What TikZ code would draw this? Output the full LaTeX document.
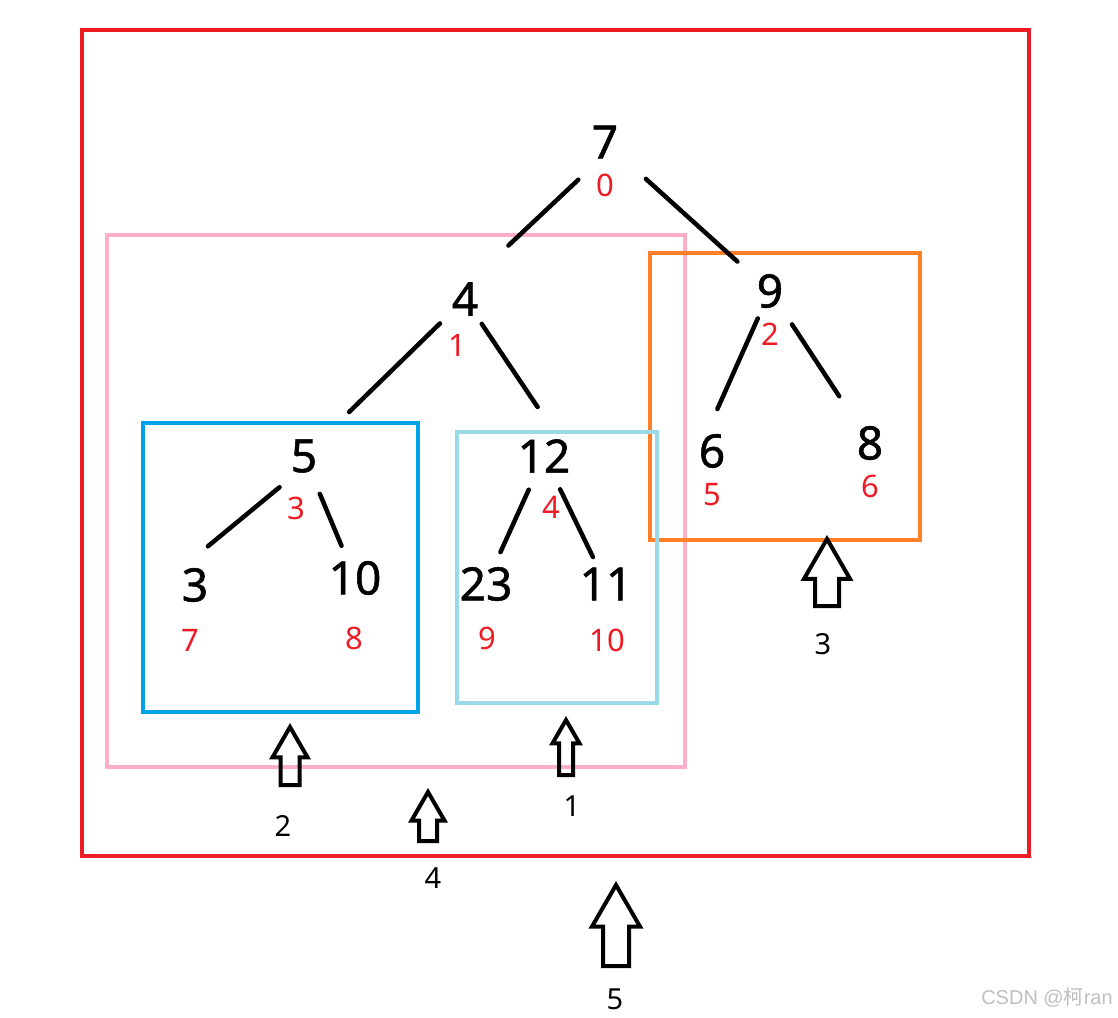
\documentclass[tikz,border=0pt]{standalone}
\usepackage{fontspec}
\setmainfont{Noto Sans}
\newfontfamily\cjk{Noto Sans CJK SC}
\newfontfamily\heavydigits{Noto Sans}[FakeBold=1.2]
\newfontfamily\markfont{Liberation Sans}
\usepackage{tikz}
\usetikzlibrary{shapes.arrows, positioning}
\definecolor{paintred}{HTML}{ED1C24}
\definecolor{paintpink}{HTML}{FFAEC9}
\definecolor{paintorange}{HTML}{FF7F27}
\definecolor{paintblue}{HTML}{00A2E8}
\definecolor{paintlight}{HTML}{99D9EA}
\tikzstyle{vert} = [inner sep=0pt, font=\heavydigits\fontsize{46}{46}\selectfont]
\tikzstyle{idx}  = [inner sep=0pt, text=paintred, font=\fontsize{31}{31}\selectfont]
\tikzstyle{edge} = [line width=4.5pt, line cap=round]

\begin{document}
\begin{tikzpicture}[x=1pt, y=-1pt,
    frame/.style={line width=4pt},
    uparrow/.style={single arrow, draw, line width=4pt, shape border rotate=90,
                    single arrow tip angle=60, outer sep=0pt, anchor=tip},
    lbl/.style={inner sep=0pt, font=\fontsize{29}{29}\selectfont},
    wmark/.style={inner sep=0pt, text=gray!50, font=\markfont\fontsize{20}{20}\selectfont}]

  \useasboundingbox (0,0) rectangle (1118,1017);

  % frames
  \draw[frame, paintred]    (82,30)   rectangle (1029,856);
  \draw[frame, paintpink]   (107,235) rectangle (685,767);
  \draw[frame, paintorange] (650,253) rectangle (920,540);
  \draw[frame, paintblue]   (143,423) rectangle (418,712);
  \draw[frame, paintlight]  (457,432) rectangle (657,703);

  % tree values
  \node[vert] (v7)  at (605,142) {7};
  \node[vert] (v4)  at (465,299) {4};
  \node[vert] (v9)  at (770,291) {9};
  \node[vert] (v5)  at (304,456) {5};
  \node[vert] (v12) at (544,456) {12};
  \node[vert] (v6)  at (712,451) {6};
  \node[vert] (v8)  at (870,443) {8};
  \node[vert] (v3)  at (195,585) {3};
  \node[vert] (v10) at (355,578) {10};
  \node[vert] (v23) at (486,584) {23};
  \node[vert] (v11) at (606,584) {11};

  % array indices
  \node[idx] (i0)  at (605,185) {0};
  \node[idx] (i1)  at (457,345) {1};
  \node[idx] (i2)  at (770,334) {2};
  \node[idx] (i3)  at (296,508) {3};
  \node[idx] (i4)  at (551,507) {4};
  \node[idx] (i5)  at (712,495) {5};
  \node[idx] (i6)  at (870,486) {6};
  \node[idx] (i7)  at (190,640) {7};
  \node[idx] (i8)  at (354,638) {8};
  \node[idx] (i9)  at (487,638) {9};
  \node[idx] (i10) at (607,640) {10};

  % edges
  \draw[edge, shorten <=55pt, shorten >=78pt] (v7.east)    -- (v4.west);
  \draw[edge, shorten <=55pt, shorten >=44pt] (v7.center)  -- (v9.center);
  \draw[edge, shorten <=35pt, shorten >=63pt] (v4.center)  -- (v5.center);
  \draw[edge, shorten <=30pt, shorten >=59pt] (v4.center)  -- (v12.east);
  \draw[edge, shorten <=30pt, shorten >=46pt] (v9.center)  -- (v6.west);
  \draw[edge, shorten <=40pt, shorten >=56pt] (v9.center)  -- (v8.center);
  \draw[edge, shorten <=49pt, shorten >=34pt] (v5.east)    -- (v3.north west);
  \draw[edge, shorten <=41pt, shorten >=35pt] (v5.center)  -- (v10.center);
  \draw[edge, shorten <=37pt, shorten >=35pt] (v12.center) -- (v23.center);
  \draw[edge, shorten <=37pt, shorten >=30pt] (v12.center) -- (v11.center);

  % order arrows
  \node[uparrow, minimum height=55pt, minimum width=23pt, inner sep=5pt,
        single arrow head extend=6.5pt] (a1) at (566,720) {};
  \node[uparrow, minimum height=58pt, minimum width=31pt, inner sep=7.5pt,
        single arrow head extend=8pt] (a2) at (290,727) {};
  \node[uparrow, minimum height=67pt, minimum width=42pt, inner sep=10pt,
        single arrow head extend=11pt] (a3) at (827,539) {};
  \node[uparrow, minimum height=49pt, minimum width=29pt, inner sep=7pt,
        single arrow head extend=7.5pt] (a4) at (428,792) {};
  \node[uparrow, minimum height=81pt, minimum width=44pt, inner sep=11pt,
        single arrow head extend=11pt] (a5) at (616,885) {};

  \node[lbl] (l1) at (572,806) {1};
  \node[lbl] (l2) at (283,826) {2};
  \node[lbl] (l3) at (823,644) {3};
  \node[lbl] (l4) at (433,878) {4};
  \node[lbl] (l5) at (615,999) {5};

  \node[wmark] (wm) at (1047,997) {CSDN @{\cjk 柯}ran};
\end{tikzpicture}
\end{document}
